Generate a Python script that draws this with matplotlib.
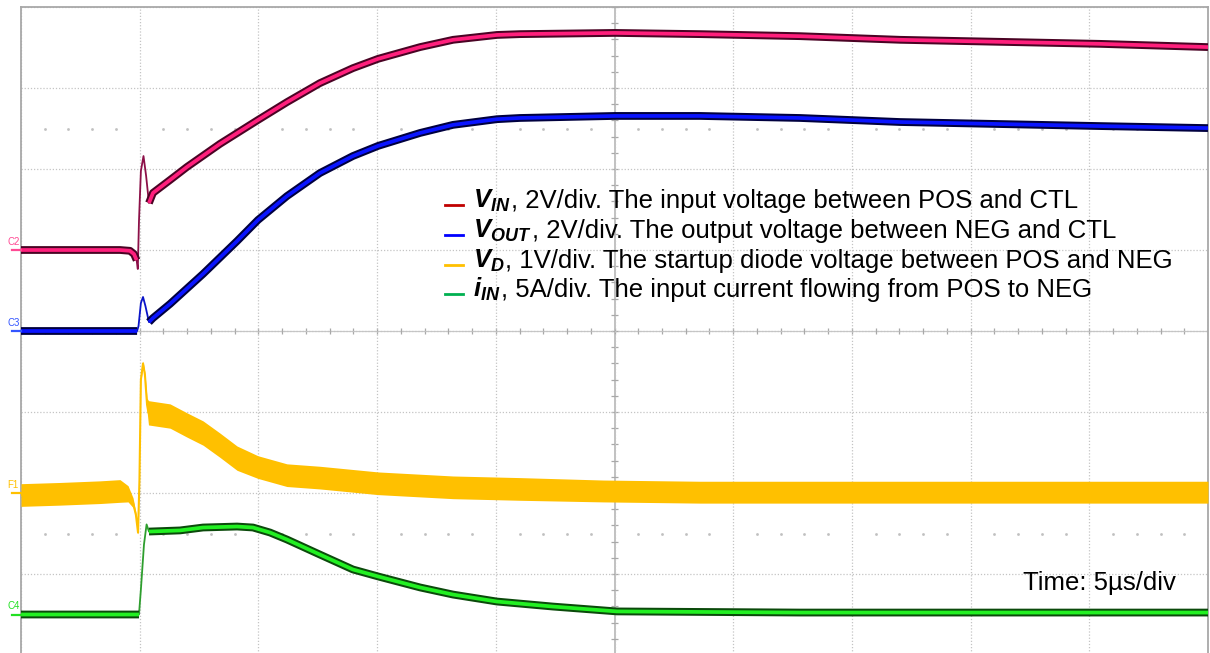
import numpy as np
import matplotlib.pyplot as plt
from matplotlib.lines import Line2D

# Scope capture: 5 us/div, 10 divisions wide, 8 divisions tall
# values, time in us

t_vin = [0.0, 4.17, 4.59, 4.76, 4.87, 4.92, 4.97, 5.05, 5.16, 5.27, 5.39, 5.56, 6.28,
         6.99, 8.38, 9.98, 11.20, 12.59, 13.98, 15.04, 16.81, 18.20, 20.05, 21.02,
         25.02, 28.60, 32.81, 37.03, 41.24, 45.45, 50.0]
vin = [0.0, 0.0, -0.02, -0.10, -0.25, -0.47, 0.72, 1.95, 2.32, 1.83, 1.16, 1.41, 1.73,
       2.05, 2.62, 3.21, 3.65, 4.12, 4.49, 4.72, 5.01, 5.19, 5.31, 5.33,
       5.36, 5.33, 5.28, 5.19, 5.14, 5.09, 5.01]

t_vout = [0.0, 4.89, 4.95, 5.05, 5.14, 5.24, 5.39, 5.56, 6.28, 7.67, 9.10, 9.98, 11.20,
          12.59, 13.98, 15.04, 16.81, 18.20, 20.05, 21.02, 25.02, 28.60, 32.81, 37.03,
          41.24, 45.45, 50.0]
vout = [0.0, 0.0, 0.12, 0.69, 0.84, 0.62, 0.22, 0.32, 0.67, 1.41, 2.22, 2.74, 3.33,
        3.90, 4.32, 4.57, 4.89, 5.09, 5.23, 5.26, 5.31, 5.31, 5.26, 5.16,
        5.11, 5.06, 5.01]

t_vd = [0.0, 1.64, 3.33, 4.17, 4.51, 4.72, 4.84, 4.93, 4.99, 5.05, 5.14, 5.22, 5.31,
        5.37, 6.28, 6.99, 7.67, 8.38, 9.10, 9.98, 11.20, 12.59, 15.04, 18.20, 21.02,
        24.52, 28.60, 32.81, 37.03, 41.24, 45.45, 50.0]
vd = [-0.025, -0.01, 0.01, 0.025, -0.01, -0.12, -0.27, -0.49, 0.16, 1.40, 1.60, 1.46, 1.09,
      0.99, 0.95, 0.84, 0.74, 0.59, 0.43, 0.32, 0.22, 0.19, 0.12, 0.07, 0.05,
      0.025, 0.01, 0.01, 0.01, 0.01, 0.01, 0.01]
# half height of the noise band on V_D
vd_noise = [0.14, 0.14, 0.14, 0.14, 0.10, 0.06, 0.03, 0.02, 0.02, 0.02, 0.03, 0.03, 0.08,
            0.15, 0.15, 0.15, 0.15, 0.15, 0.15, 0.14, 0.14, 0.14, 0.14, 0.14, 0.14,
            0.135, 0.135, 0.135, 0.135, 0.135, 0.135, 0.135]

t_iin = [0.0, 4.97, 5.05, 5.18, 5.29, 5.39, 6.70, 7.67, 9.10, 9.77, 10.49, 11.20, 12.59,
         13.98, 15.04, 16.81, 18.20, 20.05, 22.41, 25.10, 32.81, 41.24, 50.0]
iin = [0.0, 0.0, 1.54, 4.32, 5.56, 5.12, 5.19, 5.37, 5.43, 5.37, 5.06, 4.63, 3.70,
       2.78, 2.35, 1.67, 1.23, 0.80, 0.49, 0.19, 0.12, 0.12, 0.12]

# channel settings: zero level (div from bottom), units per div
ch = {
    'C2': (5.0, 2.0),
    'C3': (4.0, 2.0),
    'F1': (2.0, 1.0),
    'C4': (0.5, 5.0),
}

legend_lines = [
    (r'$\mathbfit{V}_{\mathbfit{IN}}$', ', 2V/div. The input voltage between POS and CTL', '#C00000'),
    (r'$\mathbfit{V}_{\mathbfit{OUT}}$', ', 2V/div. The output voltage between NEG and CTL', '#0000FF'),
    (r'$\mathbfit{V}_{\mathbfit{D}}$', ', 1V/div. The startup diode voltage between POS and NEG', '#FFC000'),
    (r'$\mathbfit{i}_{\mathbfit{IN}}$', ', 5A/div. The input current flowing from POS to NEG', '#00B050'),
]

plt.rcParams['font.family'] = ['Liberation Sans', 'DejaVu Sans']
plt.rcParams['mathtext.fontset'] = 'custom'
plt.rcParams['mathtext.rm'] = 'Liberation Sans'
plt.rcParams['mathtext.it'] = 'Liberation Sans:italic'
plt.rcParams['mathtext.bf'] = 'Liberation Sans:bold'
plt.rcParams['mathtext.bfit'] = 'Liberation Sans:italic:bold'

W, H = 1210, 653
fig = plt.figure(figsize=(W / 100, H / 100), dpi=100)
ax = fig.add_axes([21 / W, -2 / H, 1187 / W, 648 / H])
ax.set_xlim(0, 50)
ax.set_ylim(0, 8)

# graticule
ax.set_xticks(np.arange(0, 51, 5))
ax.set_yticks(np.arange(0, 9, 1))
ax.tick_params(length=0, labelbottom=False, labelleft=False)
ax.grid(True, ls=(0, (1, 1.5)), color='#C4C4C4', lw=0.9)
ax.set_axisbelow(True)
for s in ['left', 'top', 'right']:
    ax.spines[s].set_color('#A8A8A8')
    ax.spines[s].set_linewidth(1.3)
ax.spines['bottom'].set_visible(False)

ax.axvline(25, color='#B0B0B0', lw=1.1, zorder=0.5)
ax.axhline(4, color='#C8C8C8', lw=0.9, zorder=0.5)
minor_x = np.arange(0, 50.01, 1.0)
minor_y = np.arange(0, 8.01, 0.2)
ax.vlines(minor_x, 4 - 0.04, 4 + 0.04, color='#A8A8A8', lw=0.9, zorder=0.5)
ax.hlines(minor_y, 25 - 0.13, 25 + 0.13, color='#A8A8A8', lw=0.9, zorder=0.5)
dots_x = [x for x in minor_x if x % 5 != 0]
for row in [1.5, 6.5]:
    ax.plot(dots_x, [row] * len(dots_x), ls='none', marker='s', ms=0.9,
            color='#C0C0C0', zorder=0.5)


def to_div(vals, name):
    off, scale = ch[name]
    return off + np.asarray(vals) / scale


def trace(t, vals, name, dark, bright, thin, edge0, edge1):
    t = np.asarray(t)
    y = to_div(vals, name)
    keep = (t <= edge0) | (t >= edge1)
    yk = np.where(keep, y, np.nan)
    ax.plot(t, y, color=thin, lw=1.3, zorder=3)
    ax.plot(t, yk, color=dark, lw=5.6, solid_capstyle='butt', zorder=3)
    ax.plot(t, yk, color=bright, lw=2.7, solid_capstyle='butt', zorder=3)


trace(t_vin, vin, 'C2', '#4A0324', '#FF1F7C', '#8C1048', 4.87, 5.39)
trace(t_vout, vout, 'C3', '#00003F', '#0A14FF', '#0A14C8', 4.89, 5.39)

t_vd_a = np.asarray(t_vd)
y_vd = to_div(vd, 'F1')
noise = np.asarray(vd_noise) / ch['F1'][1]
ax.fill_between(t_vd_a, y_vd - noise, y_vd + noise, color='#FFC000', lw=0, zorder=3)
ax.plot(t_vd_a, y_vd, color='#FFC000', lw=1.5, zorder=3)

trace(t_iin, iin, 'C4', '#0B4A0B', '#22F022', '#2E9E2E', 4.97, 5.39)

# channel markers on the left edge
marks = [('C2', '#FF4A94'), ('C3', '#3355FF'), ('F1', '#FFC000'), ('C4', '#22E022')]
for name, c in marks:
    lvl = ch[name][0]
    ax.plot([-0.4, -0.02], [lvl, lvl], color=c, lw=1.6, clip_on=False, zorder=4)
    ax.text(-0.58, lvl + 0.04, name, color=c, fontsize=7, ha='left', va='bottom',
            clip_on=False)

# legend text
base_y = [208, 238, 268, 297]
for (sym, rest, c), by in zip(legend_lines, base_y):
    fig.add_artist(Line2D([445 / W, 463 / W], [1 - (by - 3) / H] * 2, color=c, lw=2.0,
                          transform=fig.transFigure))
    tx = fig.text(473 / W, 1 - by / H, sym, fontsize=18.5, ha='left', va='baseline')
    fig.canvas.draw()
    bb = tx.get_window_extent()
    fig.text(bb.x1 / W, 1 - by / H, rest, fontsize=18.5, ha='left', va='baseline')

fig.text(1023 / W, 1 - 590 / H, 'Time: 5\u00b5s/div', fontsize=18.5, ha='left', va='baseline')

fig.savefig('out.png', dpi=100)
